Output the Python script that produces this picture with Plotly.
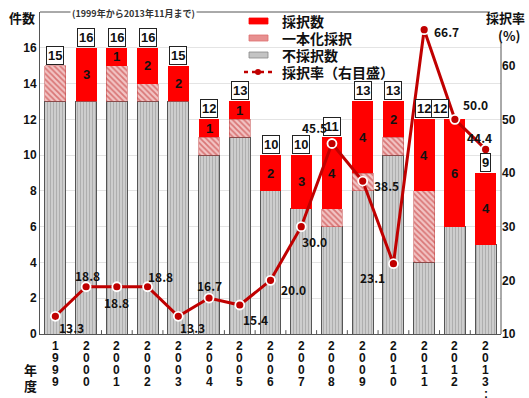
import plotly.graph_objects as go

years = [1999, 2000, 2001, 2002, 2003, 2004, 2005, 2006,
         2007, 2008, 2009, 2010, 2011, 2012, 2013]
tick_labels = ["1999", "2000", "2001", "2002", "2003", "2004", "2005", "2006",
               "2007", "2008", "2009", "2010", "2011", "2012", "2013:"]
rejected = [13, 13, 13, 13, 13, 10, 11, 8, 7, 6, 8, 10, 4, 6, 5]      # 不採択数
unified = [2, 0, 2, 1, 0, 1, 1, 0, 0, 1, 1, 1, 4, 0, 0]              # 一本化採択
adopted = [0, 3, 1, 2, 2, 1, 1, 2, 3, 4, 4, 2, 4, 6, 4]              # 採択数
totals = [15, 16, 16, 16, 15, 12, 13, 10, 10, 11, 13, 13, 12, 12, 9]
rate = [13.3, 18.8, 18.8, 18.8, 13.3, 16.7, 15.4, 20.0, 30.0, 45.5, 38.5, 23.1, 66.7, 50.0, 44.4]
legend_names = ["採択数", "一本化採択", "不採択数", "採択率（右目盛）"]

# label offsets (px) for rate labels: (dx, dy up)
rate_off = [(16, -11), (1, 11), (0, -16), (13, 10), (14, -11), (0, 13), (16, -14), (23, -9),
            (13, -15), (-17, 16), (24, -4), (-21, -14), (22, -2), (21, 15), (-6, 12)]
total_xshift = [0] * 15
total_xshift[13] = -15

LINE_RED = "#C00000"
BW = 0.68
# plot area in px (for manual legend placement)
PL, PW, PB, PH = 40, 461, 334, 322


def px(x):
    return (x - PL) / PW


def py(y):
    return (PB - y) / PH


fig = go.Figure()
fig.add_trace(go.Bar(
    x=years, y=rejected, name=legend_names[2], width=BW, showlegend=False,
    marker=dict(color="#cfcfcf", line=dict(color="#555555", width=1),
                pattern=dict(shape="|", fgcolor="#888888", bgcolor="#cdcdcd", size=3, solidity=0.3)),
))
fig.add_trace(go.Bar(
    x=years, y=unified, name=legend_names[1], width=BW, showlegend=False,
    marker=dict(color="#e8a0a0", line=dict(color="#c04040", width=0.5),
                pattern=dict(shape="\\", fgcolor="#c02828", bgcolor="#f2c4c4", size=4, solidity=0.45)),
))
fig.add_trace(go.Bar(
    x=years, y=adopted, name=legend_names[0], width=BW, showlegend=False,
    marker=dict(color="#FF0000", line=dict(color="#FF0000", width=0)),
))
fig.add_trace(go.Scatter(
    x=years, y=rate, yaxis="y2", mode="lines+markers", name=legend_names[3], showlegend=False,
    line=dict(color=LINE_RED, width=3),
    marker=dict(color=LINE_RED, size=9, line=dict(color="white", width=1.8)),
))

ann = []
lab_font = dict(family="Noto Sans CJK JP", size=12, color="#111111")
for i, yr in enumerate(years):
    ann.append(dict(x=yr, y=totals[i], xref="x", yref="y", text=f"<b>{totals[i]}</b>",
                    showarrow=False, yanchor="bottom", xshift=total_xshift[i], yshift=1,
                    bgcolor="white", bordercolor="#222222", borderwidth=1, borderpad=1,
                    font=dict(family="Liberation Sans", size=13, color="#111111")))
    if adopted[i] > 0:
        ann.append(dict(x=yr, y=rejected[i] + unified[i] + adopted[i] / 2, xref="x", yref="y",
                        text=f"<b>{adopted[i]}</b>", showarrow=False,
                        font=dict(family="Liberation Sans", size=13, color="#111111")))
    dx, dy = rate_off[i]
    ann.append(dict(x=yr, y=rate[i], xref="x", yref="y2", text=f"<b>{rate[i]:.1f}</b>",
                    showarrow=False, xshift=dx, yshift=dy, font=lab_font))
    for k, ch in enumerate(tick_labels[i]):
        ann.append(dict(x=yr, y=0, xref="x", yref="paper", text=f"<b>{ch}</b>",
                        showarrow=False, yanchor="middle", yshift=-12 - 12.1 * k,
                        font=dict(family="Liberation Sans", size=12, color="#111111")))

for k, ch in enumerate("年度"):
    ann.append(dict(x=0, y=0, xref="paper", yref="paper", text=f"<b>{ch}</b>", showarrow=False,
                    xanchor="right", yanchor="middle", xshift=-1, yshift=-35 - 16 * k,
                    font=dict(family="Noto Sans CJK JP", size=13, color="#111111")))

ann += [
    dict(x=0, y=1, xref="paper", yref="paper", text="<b>件数</b>", showarrow=False,
         xanchor="right", yanchor="middle", xshift=-3, yshift=-5,
         font=dict(family="Noto Sans CJK JP", size=13, color="#111111")),
    dict(x=0.065, y=1, xref="paper", yref="paper", text="<b>(1999年から2013年11月まで)</b>",
         showarrow=False, xanchor="left", yanchor="middle", yshift=-1, bgcolor="white",
         font=dict(family="Noto Sans CJK JP", size=9, color="#333333")),
    dict(x=1.0, y=1, xref="paper", yref="paper", text="<b>採択率</b>", showarrow=False,
         xanchor="center", yanchor="middle", xshift=4, yshift=-5,
         font=dict(family="Noto Sans CJK JP", size=13, color="#111111")),
    dict(x=1.0, y=1, xref="paper", yref="paper", text="<b>(%)</b>", showarrow=False,
         xanchor="center", yanchor="middle", xshift=8, yshift=-23,
         font=dict(family="Noto Sans CJK JP", size=13, color="#111111")),
]

shapes = [
    dict(type="line", xref="paper", yref="paper", x0=0, x1=0.976, y0=1, y1=1,
         line=dict(color="#555555", width=1)),
    dict(type="line", xref="paper", yref="paper", x0=1, x1=1, y0=0, y1=0.904,
         line=dict(color="#555555", width=1)),
]
for b in range(len(years) - 1):
    shapes.append(dict(type="line", xref="x", yref="paper", x0=years[b] + 0.5, x1=years[b] + 0.5,
                       y0=0, y1=0.012, line=dict(color="#555555", width=1)))

# manual legend
rows = [21, 38, 55, 72]
sym_fill = ["#FF0000", "#e79090", "#c4c4c4"]
sym_line = ["#FF0000", "#e07070", "#888888"]
for r in range(3):
    shapes.append(dict(type="rect", xref="paper", yref="paper",
                       x0=px(249), x1=px(268), y0=py(rows[r] + 3), y1=py(rows[r] - 3),
                       fillcolor=sym_fill[r], line=dict(color=sym_line[r], width=0.8)))
shapes.append(dict(type="line", xref="paper", yref="paper", x0=px(244), x1=px(272),
                   y0=py(rows[3]), y1=py(rows[3]), line=dict(color=LINE_RED, width=2.5, dash="4px,4px")))
shapes.append(dict(type="circle", xref="paper", yref="paper", x0=px(255), x1=px(261),
                   y0=py(rows[3] + 3), y1=py(rows[3] - 3), fillcolor=LINE_RED, line=dict(width=0)))
for r, name in enumerate(legend_names):
    ann.append(dict(x=px(280), y=py(rows[r]), xref="paper", yref="paper", text=f"<b>{name}</b>",
                    showarrow=False, xanchor="left", yanchor="middle",
                    font=dict(family="Noto Sans CJK JP", size=14, color="#111111")))

fig.update_layout(
    width=529, height=398, autosize=False,
    margin=dict(l=40, r=28, t=12, b=64),
    paper_bgcolor="white", plot_bgcolor="white",
    barmode="stack", showlegend=False,
    font=dict(family="Liberation Sans", size=12, color="#111111"),
    xaxis=dict(range=[years[0] - 0.5, years[-1] + 0.5], showticklabels=False,
               showline=True, linecolor="#555555", linewidth=1, ticks="",
               showgrid=False, zeroline=False),
    yaxis=dict(range=[0, 18], tickvals=[0, 2, 4, 6, 8, 10, 12, 14, 16],
               ticktext=["<b>%d</b>" % v for v in [0, 2, 4, 6, 8, 10, 12, 14, 16]],
               showgrid=True, gridcolor="#e4e4e4", gridwidth=1, zeroline=False,
               showline=True, linecolor="#555555", linewidth=1, ticks="", ticklen=0,
               tickfont=dict(size=12)),
    yaxis2=dict(range=[10, 70], overlaying="y", side="right",
                tickvals=[10, 20, 30, 40, 50, 60],
                ticktext=["<b>%d</b>" % v for v in [10, 20, 30, 40, 50, 60]],
                showgrid=False, zeroline=False, showline=False, tickfont=dict(size=12)),
    annotations=ann, shapes=shapes,
)

fig.write_html("out.html")
